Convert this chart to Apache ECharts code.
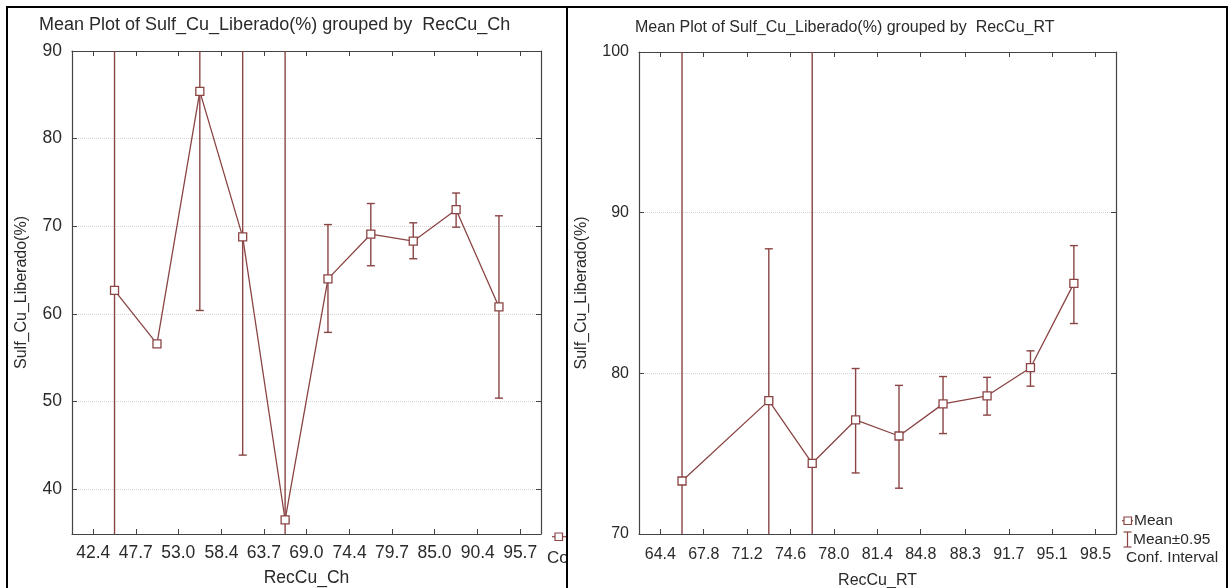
<!DOCTYPE html>
<html>
<head>
<meta charset="utf-8">
<script src="https://cdn.jsdelivr.net/npm/echarts@6/dist/echarts.min.js"></script>
<style>
html,body{margin:0;padding:0;background:#fff;}
#main{width:1230px;height:588px;}
</style>
</head>
<body>
<div id="main"></div>
<script>
// ---- Left panel: grouped by RecCu_Ch ----
const chTicks = [42.4, 47.7, 53.0, 58.4, 63.7, 69.0, 74.4, 79.7, 85.0, 90.4, 95.7];
const chX = [45.05, 50.35, 55.7, 61.05, 66.35, 71.7, 77.05, 82.35, 87.7, 93.05];
const chMean = [62.7, 56.6, 85.4, 68.8, 36.5, 64.0, 69.1, 68.3, 71.9, 60.8];
const chLow = [20, null, 60.4, 43.9, 20, 57.9, 65.5, 66.3, 69.9, 50.4];
const chHigh = [110, null, 110, 105, 110, 70.2, 72.6, 70.4, 73.8, 71.2];
const chYTicks = [40, 50, 60, 70, 80, 90];

// ---- Right panel: grouped by RecCu_RT ----
const rtTicks = [64.4, 67.8, 71.2, 74.6, 78.0, 81.4, 84.8, 88.3, 91.7, 95.1, 98.5];
const rtX = [66.1, 72.9, 76.3, 79.7, 83.1, 86.55, 90.0, 93.4, 96.8];
const rtMean = [73.3, 78.3, 74.4, 77.1, 76.1, 78.1, 78.6, 80.35, 85.6];
const rtLow = [60, 60, 60, 73.8, 72.85, 76.25, 77.4, 79.2, 83.1];
const rtHigh = [110, 87.75, 110, 80.3, 79.25, 79.8, 79.75, 81.4, 87.95];
const rtYTicks = [70, 80, 90, 100];

const C = '#8a4444';
const AX = '#444';
const TXT = '#2a2a2a';
const FONT = 'Liberation Sans, Arial, sans-serif';

function errData(xs, lo, hi) {
  const out = [];
  xs.forEach((x, i) => { if (lo[i] != null && hi[i] != null) out.push([x, lo[i], hi[i]]); });
  return out;
}
function errRender(params, api) {
  const x = api.value(0), lo = api.value(1), hi = api.value(2);
  const a = api.coord([x, lo]), b = api.coord([x, hi]);
  const cw = 4;
  const st = { stroke: C, lineWidth: 1.4 };
  return {
    type: 'group',
    children: [
      { type: 'line', shape: { x1: a[0], y1: a[1], x2: b[0], y2: b[1] }, style: st },
      { type: 'line', shape: { x1: a[0] - cw, y1: a[1], x2: a[0] + cw, y2: a[1] }, style: st },
      { type: 'line', shape: { x1: b[0] - cw, y1: b[1], x2: b[0] + cw, y2: b[1] }, style: st }
    ]
  };
}

function xAxes(gi, ticks, min, max, name, fs, margin, gap) {
  return [{
    gridIndex: gi, type: 'value', position: 'bottom', min: min, max: max,
    axisLine: { show: true, lineStyle: { color: AX, width: 1.2 } },
    axisTick: { show: true, inside: true, length: 5, customValues: ticks, lineStyle: { color: AX } },
    axisLabel: { customValues: ticks, formatter: v => v.toFixed(1), margin: margin, fontSize: fs, color: TXT, fontFamily: FONT },
    splitLine: { show: false },
    name: name, nameLocation: 'middle', nameGap: gap,
    nameTextStyle: { fontSize: fs, color: TXT, fontFamily: FONT }
  }, {
    gridIndex: gi, type: 'value', position: 'top', min: min, max: max,
    axisLine: { show: true, lineStyle: { color: AX, width: 1.2 } },
    axisTick: { show: true, inside: true, length: 5, customValues: ticks, lineStyle: { color: AX } },
    axisLabel: { show: false }, splitLine: { show: false }
  }];
}
function yAxes(gi, ticks, min, max, fs, gap) {
  return [{
    gridIndex: gi, type: 'value', position: 'left', min: min, max: max,
    axisLine: { show: true, lineStyle: { color: AX, width: 1.2 } },
    axisTick: { show: true, inside: true, length: 5, customValues: ticks, lineStyle: { color: AX } },
    axisLabel: { customValues: ticks, margin: 10, fontSize: fs, color: TXT, fontFamily: FONT },
    splitLine: { show: true, lineStyle: { color: '#d4d4d4', type: 'dotted', width: 1 } },
    name: 'Sulf_Cu_Liberado(%)', nameLocation: 'middle', nameGap: gap,
    nameTextStyle: { fontSize: 16, color: TXT, fontFamily: FONT }
  }, {
    gridIndex: gi, type: 'value', position: 'right', min: min, max: max,
    axisLine: { show: true, lineStyle: { color: AX, width: 1.2 } },
    axisTick: { show: true, inside: true, length: 5, customValues: ticks, lineStyle: { color: AX } },
    axisLabel: { show: false }, splitLine: { show: false }
  }];
}

const chart = echarts.init(document.getElementById('main'), null, { renderer: 'canvas' });
chart.setOption({
  animation: false,
  backgroundColor: '#fff',
  textStyle: { fontFamily: FONT },
  title: [
    { text: 'Mean Plot of Sulf_Cu_Liberado(%) grouped by  RecCu_Ch', left: 39, top: 16, padding: 0,
      textStyle: { fontSize: 18, fontWeight: 'normal', color: TXT, fontFamily: FONT } },
    { text: 'Mean Plot of Sulf_Cu_Liberado(%) grouped by  RecCu_RT', left: 635, top: 20, padding: 0,
      textStyle: { fontSize: 16, fontWeight: 'normal', color: TXT, fontFamily: FONT } }
  ],
  grid: [
    { left: 72, top: 51, width: 469, height: 483, show: false, containLabel: false, outerBoundsMode: 'none' },
    { left: 639, top: 52, width: 477, height: 482, show: false, containLabel: false, outerBoundsMode: 'none' }
  ],
  xAxis: [].concat(
    xAxes(0, chTicks, 39.74, 98.3, 'RecCu_Ch', 17.5, 10, 35),
    xAxes(1, rtTicks, 62.73, 100.1, 'RecCu_RT', 16, 13, 39)
  ),
  yAxis: [].concat(
    yAxes(0, chYTicks, 34.9, 90, 17.5, 42),
    yAxes(1, rtYTicks, 70, 100, 16, 49)
  ),
  series: [
    { type: 'custom', name: 'CI', xAxisIndex: 0, yAxisIndex: 0, clip: true, z: 2,
      renderItem: errRender, encode: { x: 0, y: [1, 2] }, data: errData(chX, chLow, chHigh) },
    { type: 'line', name: 'Mean', xAxisIndex: 0, yAxisIndex: 0, z: 3,
      data: chX.map((x, i) => [x, chMean[i]]),
      symbol: 'rect', symbolSize: 8, showAllSymbol: true,
      lineStyle: { color: C, width: 1.3 },
      itemStyle: { color: '#fff', borderColor: C, borderWidth: 1.3 } },
    { type: 'custom', name: 'CI', xAxisIndex: 2, yAxisIndex: 2, clip: true, z: 2,
      renderItem: errRender, encode: { x: 0, y: [1, 2] }, data: errData(rtX, rtLow, rtHigh) },
    { type: 'line', name: 'Mean', xAxisIndex: 2, yAxisIndex: 2, z: 3,
      data: rtX.map((x, i) => [x, rtMean[i]]),
      symbol: 'rect', symbolSize: 8, showAllSymbol: true,
      lineStyle: { color: C, width: 1.3 },
      itemStyle: { color: '#fff', borderColor: C, borderWidth: 1.3 } }
  ],
  graphic: [
    { type: 'rect', shape: { x: 7, y: 7, width: 1220, height: 600 }, style: { fill: null, stroke: '#000', lineWidth: 2 }, silent: true, z: 100 },
    { type: 'line', shape: { x1: 567, y1: 7, x2: 567, y2: 588 }, style: { stroke: '#000', lineWidth: 2 }, silent: true, z: 100 },
    // left legend (cut off at divider)
    { type: 'line', shape: { x1: 552, y1: 536.7, x2: 566, y2: 536.7 }, style: { stroke: C, lineWidth: 1.2 }, z: 50 },
    { type: 'rect', shape: { x: 555, y: 533, width: 7.5, height: 7.5 }, style: { fill: '#fff', stroke: C, lineWidth: 1.2 }, z: 51 },
    { type: 'text', x: 547, y: 558, style: { text: 'Co', fontSize: 17, fill: TXT, fontFamily: FONT, verticalAlign: 'middle' }, z: 50 },
    // right legend
    { type: 'line', shape: { x1: 1122, y1: 520.7, x2: 1133, y2: 520.7 }, style: { stroke: C, lineWidth: 1.2 }, z: 50 },
    { type: 'rect', shape: { x: 1124, y: 517, width: 7.5, height: 7.5 }, style: { fill: '#fff', stroke: C, lineWidth: 1.2 }, z: 51 },
    { type: 'text', x: 1134, y: 521, style: { text: 'Mean', fontSize: 15.5, fill: TXT, fontFamily: FONT, verticalAlign: 'middle' }, z: 50 },
    { type: 'line', shape: { x1: 1127.5, y1: 532, x2: 1127.5, y2: 547 }, style: { stroke: C, lineWidth: 1.2 }, z: 50 },
    { type: 'line', shape: { x1: 1123.5, y1: 532, x2: 1131.5, y2: 532 }, style: { stroke: C, lineWidth: 1.2 }, z: 50 },
    { type: 'line', shape: { x1: 1123.5, y1: 547, x2: 1131.5, y2: 547 }, style: { stroke: C, lineWidth: 1.2 }, z: 50 },
    { type: 'text', x: 1133, y: 539.5, style: { text: 'Mean±0.95', fontSize: 15.5, fill: TXT, fontFamily: FONT, verticalAlign: 'middle' }, z: 50 },
    { type: 'text', x: 1126, y: 558, style: { text: 'Conf. Interval', fontSize: 15.5, fill: TXT, fontFamily: FONT, verticalAlign: 'middle' }, z: 50 }
  ]
});
</script>
</body>
</html>
